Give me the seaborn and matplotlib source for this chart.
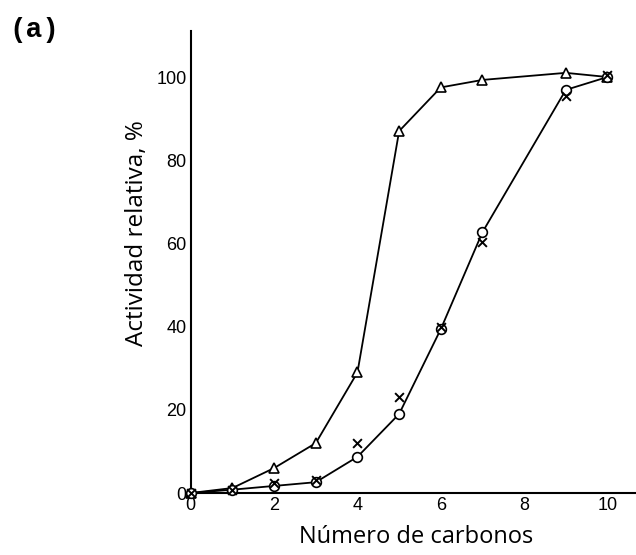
"""
Actividad relativa frente a número de carbonos (figura (a))
"""

import matplotlib.pyplot as plt
import seaborn as sns
import pandas as pd

# datos
carbonos = [0, 1, 2, 3, 4, 5, 6, 7, 9, 10]
triangulos = [0, 1.2, 6, 12, 29, 87, 97.5, 99.3, 101, 100]
circulos = [0, 0.8, 1.7, 2.6, 8.7, 19, 39.4, 62.7, 96.9, 100]
cruces = [0, 0.8, 2.5, 3.2, 12, 23, 40, 60.3, 95.5, 100.5]

x_ticks = [0, 2, 4, 6, 8, 10]
y_ticks = [0, 20, 40, 60, 80, 100]

df_tri = pd.DataFrame({'n': carbonos, 'act': triangulos})
df_cir = pd.DataFrame({'n': carbonos, 'act': circulos})
df_x = pd.DataFrame({'n': carbonos, 'act': cruces})

sns.set_style('white')
plt.rcParams['font.family'] = ['DejaVu Sans']
plt.rcParams['text.color'] = 'black'
plt.rcParams['axes.labelcolor'] = 'black'

fig = plt.figure(figsize=(6.36, 5.55), dpi=100)
ax = fig.add_axes([0.300, 0.1117, 0.701, 0.832])

# curvas
sns.lineplot(data=df_tri, x='n', y='act', color='black', lw=1.3, ax=ax, clip_on=False)
sns.lineplot(data=df_cir, x='n', y='act', color='black', lw=1.3, ax=ax, clip_on=False)

# marcadores
ax.plot(df_tri['n'], df_tri['act'], ls='none', marker='^', ms=7, mfc='white',
        mec='black', mew=1.2, clip_on=False, zorder=4)
ax.plot(df_cir['n'], df_cir['act'], ls='none', marker='o', ms=7, mfc='white',
        mec='black', mew=1.2, clip_on=False, zorder=4)
sns.scatterplot(data=df_x, x='n', y='act', marker='x', s=40, color='black',
                linewidth=1.4, ax=ax, clip_on=False, zorder=5)

ax.set_xlim(0, 10.7)
ax.set_ylim(0, 111)
ax.set_xticks(x_ticks)
ax.set_yticks(y_ticks)
ax.tick_params(axis='both', direction='in', length=5, width=1.2, labelsize=13,
               colors='black', pad=3)
for lbl in ax.get_xticklabels() + ax.get_yticklabels():
    lbl.set_family('Liberation Sans')

for s in ['top', 'right']:
    ax.spines[s].set_visible(False)
for s in ['left', 'bottom']:
    ax.spines[s].set_linewidth(1.5)
    ax.spines[s].set_color('black')

ax.set_xlabel('Número de carbonos', fontsize=17, family='Open Sans')
ax.set_ylabel('Actividad relativa, %', fontsize=17.5, family='Open Sans')
ax.xaxis.set_label_coords(0.505, -0.095)
ax.xaxis.label.set_va('center')
ax.yaxis.set_label_coords(-0.121, 0.563)
ax.yaxis.label.set_va('center')

fig.text(0.015, 0.946, '(a)', fontsize=20, family='Liberation Mono', weight='bold',
         ha='left', va='center')

fig.savefig('out.png', dpi=100)
